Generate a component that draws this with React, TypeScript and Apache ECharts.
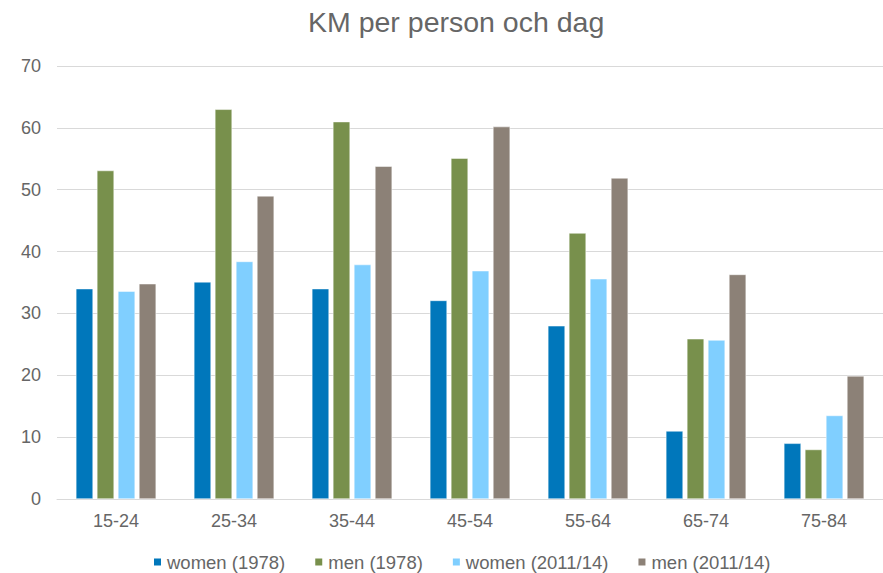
import React, { useEffect, useRef } from "react";
import * as echarts from "echarts";

const categories = ["15-24", "25-34", "35-44", "45-54", "55-64", "65-74", "75-84"];
const women1978 = [34, 35.1, 34, 32.1, 28, 11, 9];
const men1978 = [53.1, 63, 61, 55.1, 43, 25.9, 8];
const women2011 = [33.6, 38.4, 37.9, 36.9, 35.6, 25.7, 13.5];
const men2011 = [34.8, 49, 53.8, 60.2, 51.9, 36.3, 19.9];
const seriesNames = ["women (1978)", "men (1978)", "women (2011/14)", "men (2011/14)"];
const colors = ["#0077BB", "#78904C", "#80CFFF", "#8C8177"];

const FONT = "Liberation Sans, Arial, sans-serif";
const TEXT = "#666666";

export default function App() {
  const ref = useRef<HTMLDivElement>(null);
  useEffect(() => {
    const chart = echarts.init(ref.current!, null, { renderer: "svg" });
    const data = [women1978, men1978, women2011, men2011];
    chart.setOption({
      animation: false,
      backgroundColor: "#ffffff",
      textStyle: { fontFamily: FONT },
      title: {
        text: "KM per person och dag",
        left: 308,
        top: 7,
        padding: 0,
        textStyle: { fontSize: 28.5, fontWeight: "normal", color: TEXT, fontFamily: FONT },
      },
      legend: {
        left: 152,
        top: 551,
        padding: 0,
        itemWidth: 9,
        itemHeight: 9,
        itemGap: 28,
        icon: "rect",
        textStyle: { fontSize: 18.5, color: TEXT, lineHeight: 22 },
        data: seriesNames,
      },
      grid: { left: 57, top: 66, width: 834, height: 433, containLabel: false },
      xAxis: {
        type: "category",
        data: categories,
        axisLine: { lineStyle: { color: "#d9d9d9" } },
        axisTick: { show: false },
        axisLabel: { fontSize: 18, color: TEXT, margin: 13 },
      },
      yAxis: {
        type: "value",
        min: 0,
        max: 70,
        interval: 10,
        axisLine: { show: false },
        axisTick: { show: false },
        splitLine: { lineStyle: { color: "#d9d9d9" } },
        axisLabel: { fontSize: 18, color: TEXT, margin: 16 },
      },
      series: data.map((d, i) => ({
        name: seriesNames[i],
        type: "bar",
        data: d,
        barGap: "22.5%",
        barCategoryGap: "32%",
        itemStyle: { color: colors[i], borderColor: "#ffffff", borderWidth: 0.5 },
      })),
    });
    return () => chart.dispose();
  }, []);
  return <div ref={ref} style={{ width: 883, height: 573, position: "absolute", left: 0, top: 0 }} />;
}
